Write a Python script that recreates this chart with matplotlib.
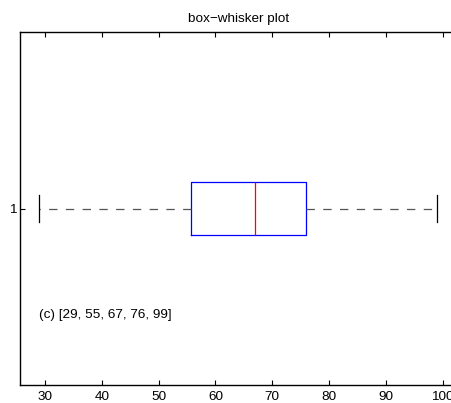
import matplotlib
matplotlib.use('Agg')
import matplotlib.pyplot as plt

# five-number summary (from the picture)
whislo = 29
q1 = 55.75
med = 67
q3 = 76
whishi = 99
label_vals = [29, 55, 67, 76, 99]
xticks = [30, 40, 50, 60, 70, 80, 90, 100]

plt.rcParams['font.family'] = ['Liberation Sans', 'DejaVu Sans']
plt.rcParams['font.size'] = 9.7

fig = plt.figure(figsize=(4.51, 4.03), dpi=100)
ax = fig.add_axes([19.5 / 451, 1 - 385 / 403, 437.3 / 451, 353 / 403])

stats = [{'whislo': whislo, 'q1': q1, 'med': med, 'q3': q3, 'whishi': whishi}]
ax.bxp(stats, positions=[1], orientation='horizontal', widths=0.15, capwidths=0.075,
       showfliers=False,
       boxprops=dict(color='blue', lw=0.9),
       medianprops=dict(color='red', lw=0.9),
       whiskerprops=dict(color='#555555', lw=0.9, linestyle=(0, (6.7, 6.7))),
       capprops=dict(color='black', lw=0.9))

# matlab style padding of 5% around the data
pad = (whishi - whislo) * 0.05
ax.set_xlim(whislo - pad, whishi + pad)
ax.set_ylim(0.5, 1.5)
ax.set_xticks(xticks)
ax.set_yticks([1])
ax.set_yticklabels(['1'])
ax.tick_params(direction='in', top=True, right=True, length=3.5, width=0.8, pad=4)
ax.tick_params(axis='y', pad=2)
for s in ax.spines.values():
    s.set_linewidth(1.0)

ax.set_title('box\u2212whisker plot', fontsize=9.7, pad=7)
ax.text(whislo, 0.698, '(c) [' + ', '.join(str(v) for v in label_vals) + ']',
        ha='left', va='center', fontsize=9.7)

fig.savefig('out.png', dpi=100)
